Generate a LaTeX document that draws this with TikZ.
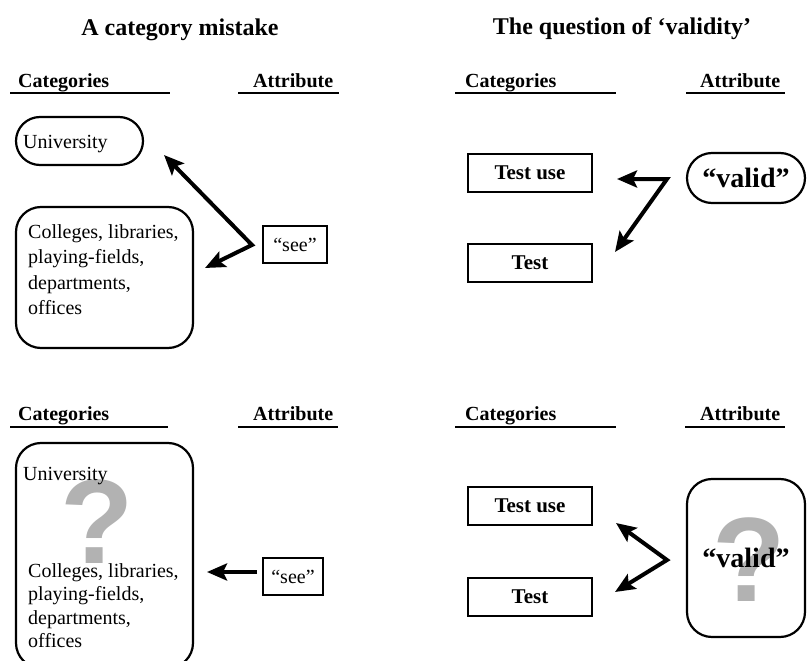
\documentclass[tikz,border=0pt]{standalone}
\usepackage{fontspec}
\setmainfont{Liberation Serif}
\newfontfamily\qfont{Liberation Sans}
\usetikzlibrary{arrows.meta}
\begin{document}
\begin{tikzpicture}[x=1pt,y=-1pt,
  title/.style={font=\bfseries\fontsize{24}{28}\selectfont, inner sep=0, anchor=base},
  head/.style={font=\bfseries\fontsize{20}{24}\selectfont, inner sep=0, anchor=base west},
  uline/.style={line width=2.8pt},
  txt/.style={font=\fontsize{20}{25.5}\selectfont, inner sep=0, align=left},
  boxl/.style={draw, line width=2.2pt, inner sep=0},
  btxt/.style={font=\bfseries\fontsize{21}{24}\selectfont, inner sep=0},
  vtxt/.style={font=\bfseries\fontsize{28}{30}\selectfont, inner sep=0},
  qmark/.style={font=\qfont\bfseries\fontsize{120}{120}\selectfont, text=black!30, inner sep=0},
  tip/.style={Stealth[length=20pt,width=17pt,inset=4pt]},
  arr/.style={line width=4pt, -{Stealth[length=20pt,width=17pt,inset=4pt]}},
  darr/.style={line width=4pt, {Stealth[length=20pt,width=17pt,inset=4pt]}-{Stealth[length=20pt,width=17pt,inset=4pt]}}
]
\useasboundingbox (0,0) rectangle (807,661);
\clip (0,0) rectangle (807,661);

% titles
\node[title] (t1) at (180,36) {A category mistake};
\node[title] (t2) at (622,35) {The question of ‘validity’};

% headings row 1
\node[head] (h1) at (18,88) {Categories};
\node[head] (h2) at (253,88) {Attribute};
\node[head] (h3) at (465,88) {Categories};
\node[head] (h4) at (700,88) {Attribute};
\draw[uline] (10,93) -- (170,93);
\draw[uline] (238,93) -- (339,93);
\draw[uline] (455,93) -- (616,93);
\draw[uline] (686,93) -- (785,93);

% headings row 2
\node[head] (h5) at (18,420) {Categories};
\node[head] (h6) at (253,420) {Attribute};
\node[head] (h7) at (465,420) {Categories};
\node[head] (h8) at (700,420) {Attribute};
\draw[uline] (10,427) -- (168,427);
\draw[uline] (238,427) -- (338,427);
\draw[uline] (455,427) -- (616,427);
\draw[uline] (685,427) -- (785,427);

% ---------- top left
\node[boxl, rounded corners=24pt, minimum width=127pt, minimum height=48pt] (uni1) at (79.5,141) {};
\node[txt, anchor=base west] (unit1) at (23,148) {University};
\node[boxl, rounded corners=25pt, minimum width=177pt, minimum height=141pt] (col1) at (104.5,277.5) {};
\node[txt, anchor=north west] (colt1) at (28,224) {Colleges, libraries,\\playing-fields,\\departments,\\offices};
\node[boxl, minimum width=64pt, minimum height=37pt] (see1) at (295,244.5) {};
\node[txt] (seet1) at (see1.center) {“see”};
\coordinate (v1) at (252,245);
\coordinate (tu1) at (164,155);
\coordinate (tc1) at (205,268);
\draw[darr] (tu1) -- (v1) -- (tc1);

% ---------- top right
\node[boxl, minimum width=124pt, minimum height=38pt] (tuse1) at (530,173) {};
\node[btxt] (tuset1) at (tuse1.center) {Test use};
\node[boxl, minimum width=124pt, minimum height=38pt] (test1) at (530,263) {};
\node[btxt] (testt1) at (test1.center) {Test};
\node[boxl, rounded corners=25pt, minimum width=118pt, minimum height=50pt] (val1) at (746,178) {};
\node[vtxt] (valt1) at (val1.center) {“valid”};
\coordinate (v2) at (667,179);
\coordinate (tt2) at (617,179);
\coordinate (tb2) at (615,252);
\draw[darr] (tt2) -- (v2) -- (tb2);

% ---------- bottom left
\node[boxl, rounded corners=25pt, minimum width=177pt, minimum height=225pt] (big) at (104.5,555.5) {};
\node[qmark] (q1) at (97,522) {?};
\node[txt, anchor=base west] (unit2) at (23,480) {University};
\node[txt, anchor=north west, font=\fontsize{20}{23.5}\selectfont] (colt2) at (28,563) {Colleges, libraries,\\playing-fields,\\departments,\\offices};
\node[boxl, minimum width=60pt, minimum height=37pt] (see2) at (293,576.5) {};
\node[txt] (seet2) at (see2.center) {“see”};
\coordinate (v3) at (257,572);
\coordinate (tc3) at (207,572);
\draw[arr] (v3) -- (tc3);

% ---------- bottom right
\node[boxl, minimum width=124pt, minimum height=38pt] (tuse2) at (530,506) {};
\node[btxt] (tuset2) at (tuse2.center) {Test use};
\node[boxl, minimum width=124pt, minimum height=38pt] (test2) at (530,597) {};
\node[btxt] (testt2) at (test2.center) {Test};
\node[boxl, rounded corners=25pt, minimum width=118pt, minimum height=158pt] (val2) at (746,558) {};
\node[qmark] (q2) at (749,560) {?};
\node[vtxt] (valt2) at (746,558) {“valid”};
\coordinate (v4) at (667,560);
\coordinate (tt4) at (616,523);
\coordinate (tb4) at (615,592);
\draw[darr] (tt4) -- (v4) -- (tb4);
\end{tikzpicture}
\end{document}
